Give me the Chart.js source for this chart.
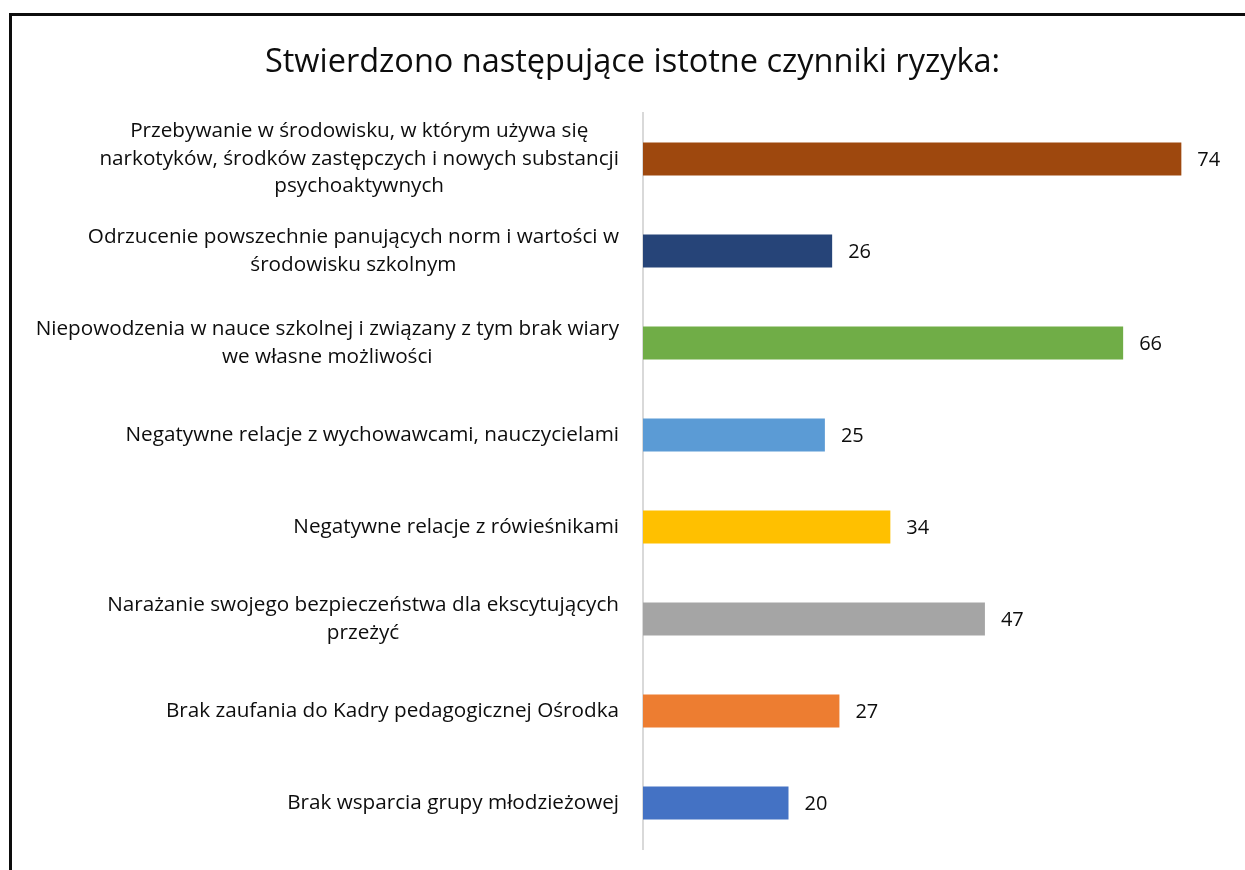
<!DOCTYPE html>
<html>
<head>
<meta charset="utf-8">
<script src="https://cdn.jsdelivr.net/npm/chart.js@4"></script>
<style>
  html, body { margin: 0; padding: 0; background: #fff; }
  #wrap { position: absolute; left: 0; top: 0; width: 1245px; height: 870px; }
  #frame { position: absolute; left: 9px; top: 13px; width: 1245px; height: 870px;
           border-left: 3px solid #0d0d0d; border-top: 3px solid #0d0d0d; pointer-events: none; }
</style>
</head>
<body>
<div id="wrap"><canvas id="risk-chart" width="1245" height="870"></canvas></div>
<div id="frame"></div>
<script>
const TITLE = 'Stwierdzono następujące istotne czynniki ryzyka:';

const categories = [
  ['Przebywanie w środowisku, w którym używa się', 'narkotyków, środków zastępczych i nowych substancji', 'psychoaktywnych'],
  ['Odrzucenie powszechnie panujących norm i wartości w', 'środowisku szkolnym'],
  ['Niepowodzenia w nauce szkolnej i związany z tym brak wiary', 'we własne możliwości'],
  ['Negatywne relacje z wychowawcami, nauczycielami'],
  ['Negatywne relacje z rówieśnikami'],
  ['Narażanie swojego bezpieczeństwa dla ekscytujących', 'przeżyć'],
  ['Brak zaufania do Kadry pedagogicznej Ośrodka'],
  ['Brak wsparcia grupy młodzieżowej'],
];

const counts = [74, 26, 66, 25, 34, 47, 27, 20];

const barColors = ['#9e480e', '#264478', '#70ad47', '#5b9bd5', '#ffc000', '#a5a5a5', '#ed7d31', '#4472c4'];

const FONT = '"Open Sans", "Noto Sans", sans-serif';
const TEXT_COLOR = '#0d0d0d';

// category labels: lines centred on each other, block right-aligned to the axis
const categoryLabels = {
  id: 'categoryLabels',
  afterDraw(chart) {
    const { ctx, scales: { y } } = chart;
    const lineH = 27.5;
    ctx.save();
    ctx.font = '20.7px ' + FONT;
    ctx.fillStyle = TEXT_COLOR;
    ctx.textAlign = 'center';
    ctx.textBaseline = 'middle';
    const right = y.right - 24;
    categories.forEach((lines, i) => {
      const cy = y.getPixelForTick(i);
      const w = Math.max(...lines.map(l => ctx.measureText(l).width));
      const cx = right - w / 2;
      const top = cy - (lines.length - 1) * lineH / 2;
      lines.forEach((l, j) => ctx.fillText(l, cx, top + j * lineH));
    });
    ctx.restore();
  },
};

// value labels after the end of each bar
const valueLabels = {
  id: 'valueLabels',
  afterDatasetsDraw(chart) {
    const { ctx } = chart;
    const meta = chart.getDatasetMeta(0);
    ctx.save();
    ctx.font = '20px ' + FONT;
    ctx.fillStyle = TEXT_COLOR;
    ctx.textAlign = 'left';
    ctx.textBaseline = 'middle';
    meta.data.forEach((bar, i) => {
      ctx.fillText(String(counts[i]), bar.x + 16, bar.y + 1);
    });
    ctx.restore();
  },
};

new Chart(document.getElementById('risk-chart'), {
  type: 'bar',
  data: {
    labels: categories,
    datasets: [{
      data: counts,
      backgroundColor: barColors,
      borderWidth: 0,
      categoryPercentage: 1,
      barPercentage: 0.36,
    }],
  },
  options: {
    indexAxis: 'y',
    responsive: false,
    animation: false,
    devicePixelRatio: 1,
    layout: { padding: { left: 40, right: 20, top: 0, bottom: 21 } },
    plugins: {
      legend: { display: false },
      tooltip: { enabled: false },
      title: {
        display: true,
        text: TITLE,
        color: TEXT_COLOR,
        font: { family: FONT, size: 32.5, weight: 'normal' },
        padding: { top: 43, bottom: 31 },
      },
    },
    scales: {
      x: {
        display: false,
        min: 0,
        max: 80,
      },
      y: {
        grid: { display: false },
        ticks: { display: false },
        border: { display: true, color: '#d9d9d9', width: 2 },
        afterFit(scale) { scale.width = 603; },
      },
    },
  },
  plugins: [categoryLabels, valueLabels],
});
</script>
</body>
</html>
